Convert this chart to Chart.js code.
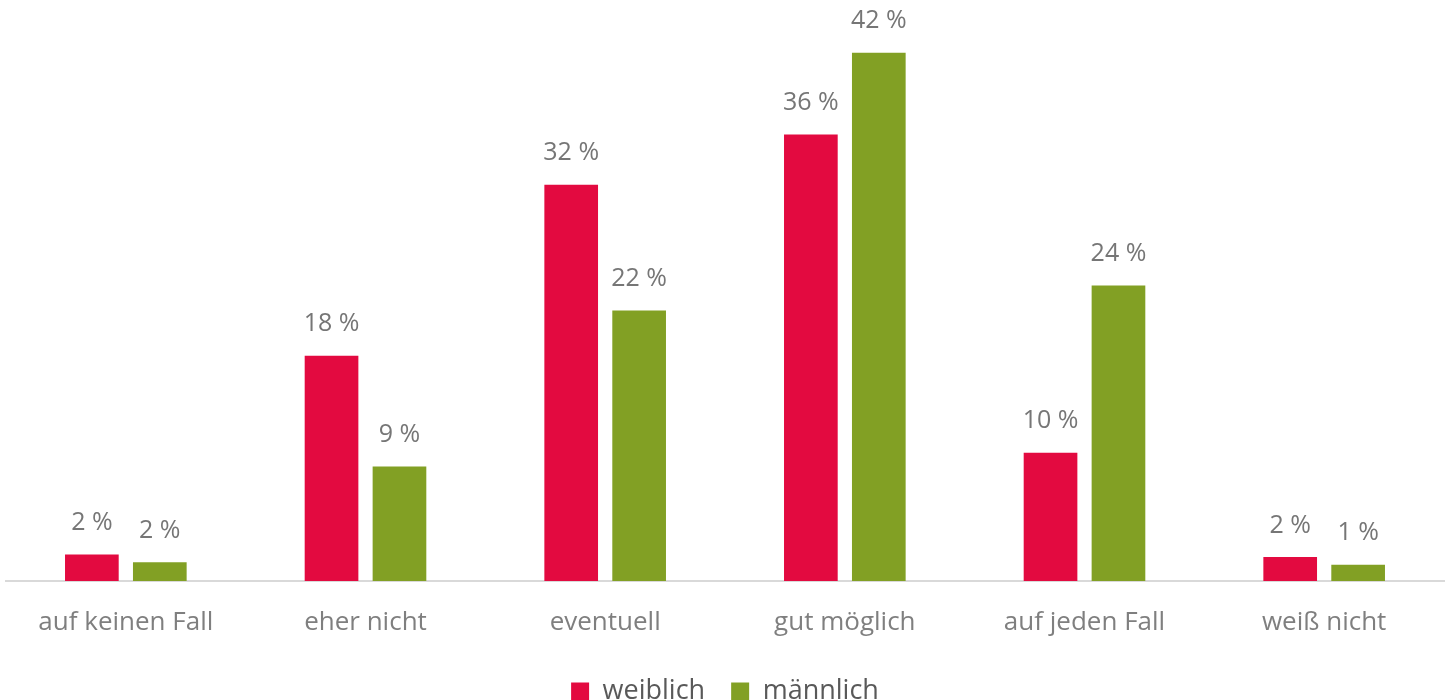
<!DOCTYPE html>
<html>
<head>
<meta charset="utf-8">
<script src="https://cdn.jsdelivr.net/npm/chart.js@4"></script>
<style>
  body { margin: 0; background: #fff; }
  #wrap { width: 1448px; height: 700px; position: relative; }
</style>
</head>
<body>
<div id="wrap"><canvas id="myChart"></canvas></div>
<script>
const categories = ['auf keinen Fall', 'eher nicht', 'eventuell', 'gut möglich', 'auf jeden Fall', 'weiß nicht'];
const weiblich = [2.1, 17.9, 31.5, 35.5, 10.2, 1.9];
const maennlich = [1.5, 9.1, 21.5, 42.0, 23.5, 1.3];

// draws "xx %" above every bar
const barLabels = {
    id: 'barLabels',
    afterDatasetsDraw(chart) {
        const ctx = chart.ctx;
        ctx.save();
        ctx.font = '25px "Open Sans", sans-serif';
        ctx.fillStyle = '#767676';
        ctx.textAlign = 'center';
        ctx.textBaseline = 'bottom';
        chart.data.datasets.forEach((ds, i) => {
            chart.getDatasetMeta(i).data.forEach((bar, j) => {
                ctx.fillText(Math.round(ds.data[j]) + ' %', bar.x, bar.y - 19);
            });
        });
        ctx.restore();
    }
};

const ctx = document.getElementById('myChart').getContext('2d');
const myChart = new Chart(ctx, {
    type: 'bar',
    data: {
        labels: categories,
        datasets: [
            {
                label: 'weiblich',
                data: weiblich,
                backgroundColor: '#E30A40'
            },
            {
                label: 'männlich',
                data: maennlich,
                backgroundColor: '#82A024'
            }
        ]
    },
    options: {
        responsive: true,
        maintainAspectRatio: false,
        animation: false,
        categoryPercentage: 0.567,
        barPercentage: 0.79,
        layout: {
            padding: { left: 6, right: 4, top: 15, bottom: -15 }
        },
        scales: {
            x: {
                grid: { display: false, drawTicks: false },
                border: { color: '#d9d9d9', width: 2 },
                ticks: {
                    color: '#7f7f7f',
                    padding: 26,
                    font: { family: '"Open Sans", sans-serif', size: 26 }
                },
                afterFit(scale) { scale.height = 71; }
            },
            y: {
                display: false,
                beginAtZero: true,
                max: 45
            }
        },
        plugins: {
            legend: {
                display: true,
                position: 'bottom',
                labels: {
                    color: '#595959',
                    boxWidth: 18,
                    boxHeight: 18,
                    padding: 26,
                    font: { family: '"Open Sans", sans-serif', size: 27 }
                }
            },
            tooltip: { enabled: false }
        }
    },
    plugins: [barLabels]
});
</script>
</body>
</html>
